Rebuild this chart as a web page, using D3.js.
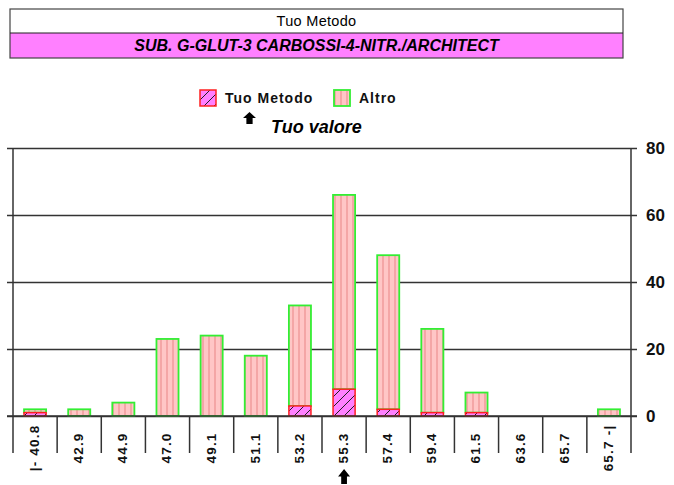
<!DOCTYPE html>
<html>
<head>
<meta charset="utf-8">
<script src="https://cdn.jsdelivr.net/npm/d3@7"></script>
<style>
  html, body { margin: 0; padding: 0; background: #fff; }
  svg { display: block; font-family: "Liberation Sans", Arial, Helvetica, sans-serif; }
</style>
</head>
<body>
<svg id="chart" width="674" height="485"></svg>
<script>
// Class limits shown under each column
const categories = ["|- 40.8", "42.9", "44.9", "47.0", "49.1", "51.1", "53.2", "55.3", "57.4", "59.4", "61.5", "63.6", "65.7", "65.7 -|"];
// Counts per class: own method (bottom) and all other methods (stacked on top)
const tuoMetodo = [1, 0, 0, 0, 0, 0, 3, 8, 2, 1, 1, 0, 0, 0];
const altro     = [1, 2, 4, 23, 24, 18, 30, 58, 46, 25, 6, 0, 0, 2];
const yTicks = [0, 20, 40, 60, 80];
const tuoValore = "55.3";
const headerTitle = "Tuo Metodo";
const headerSubtitle = "SUB. G-GLUT-3 CARBOSSI-4-NITR./ARCHITECT";
const seriesNames = ["Tuo Metodo", "Altro"];

const svg = d3.select("#chart");

// Patterns: vertical pink stripes and magenta with diagonal hatch
const defs = svg.append("defs");
const pStripe = defs.append("pattern").attr("id", "stripes")
  .attr("patternUnits", "userSpaceOnUse").attr("width", 6).attr("height", 6);
pStripe.append("rect").attr("width", 6).attr("height", 6).attr("fill", "#ffc6c6");
pStripe.append("rect").attr("x", 4).attr("width", 2).attr("height", 6).attr("fill", "#f4a6a6");

const pHatch = defs.append("pattern").attr("id", "hatch")
  .attr("patternUnits", "userSpaceOnUse").attr("width", 10).attr("height", 10);
pHatch.append("rect").attr("width", 10).attr("height", 10).attr("fill", "#ff80ff");
pHatch.append("path").attr("d", "M0,10 L10,0 M-2,2 L2,-2 M8,12 L12,8")
  .attr("stroke", "#222").attr("stroke-width", 1);

// Header box
const hx0 = 10, hx1 = 623;
svg.append("rect").attr("x", hx0).attr("y", 33).attr("width", hx1 - hx0).attr("height", 25)
  .attr("fill", "#ff80ff");
svg.append("rect").attr("x", hx0).attr("y", 9).attr("width", hx1 - hx0).attr("height", 49)
  .attr("fill", "none").attr("stroke", "#444").attr("stroke-width", 1.2);
svg.append("line").attr("x1", hx0).attr("x2", hx1).attr("y1", 33).attr("y2", 33)
  .attr("stroke", "#222").attr("stroke-width", 1.2);
svg.append("text").attr("x", (hx0 + hx1) / 2).attr("y", 26).attr("text-anchor", "middle")
  .attr("font-size", 14.5).attr("letter-spacing", 0.3).text(headerTitle);
svg.append("text").attr("x", (hx0 + hx1) / 2).attr("y", 51).attr("text-anchor", "middle")
  .attr("font-size", 16).attr("font-weight", "bold").attr("font-style", "italic")
  .text(headerSubtitle);

// Scales
const x = d3.scaleBand().domain(categories).range([13, 631]).paddingInner(0.5).paddingOuter(0.25);
const y = d3.scaleLinear().domain([0, 80]).range([416, 148]);

// Gridlines spanning the plot, with ticks on both sides
svg.append("g").attr("transform", "translate(637,0)")
  .call(d3.axisLeft(y).tickValues(yTicks).tickSize(630).tickFormat(""))
  .call(g => g.select(".domain").remove())
  .call(g => g.selectAll("line").attr("stroke", "#333").attr("stroke-width", 1.5));

// Right value axis labels
svg.append("g").attr("transform", "translate(631,0)")
  .call(d3.axisRight(y).tickValues(yTicks).tickSize(6).tickPadding(9))
  .call(g => g.select(".domain").remove())
  .call(g => g.selectAll("line").remove())
  .call(g => g.selectAll("text").attr("font-size", 17).attr("font-weight", "bold")
    .attr("fill", "#111").attr("font-family", "'Liberation Sans', Arial, sans-serif"));

// Side axis lines
[13, 631].forEach(xx => {
  svg.append("line").attr("x1", xx).attr("x2", xx).attr("y1", y(80)).attr("y2", 453)
    .attr("stroke", "#333").attr("stroke-width", 1.5);
});

// Category separators below the baseline
const step = x.step();
svg.append("g").selectAll("line").data(categories.slice(1)).join("line")
  .attr("x1", c => x(c) - (step - x.bandwidth()) / 2)
  .attr("x2", c => x(c) - (step - x.bandwidth()) / 2)
  .attr("y1", y(0)).attr("y2", 453)
  .attr("stroke", "#333").attr("stroke-width", 1.5);

// Category labels, rotated
svg.append("g").selectAll("text").data(categories).join("text")
  .attr("transform", c => `translate(${x(c) + x.bandwidth() / 2 - 1},448) rotate(-90)`)
  .attr("text-anchor", "middle").attr("dy", "0.36em")
  .attr("font-size", 13.5).attr("font-weight", "bold").attr("letter-spacing", 1.2)
  .attr("fill", "#111")
  .text(c => c);

// Bars: own method at the bottom, others stacked above
const rows = categories.map((c, i) => ({ c, t: tuoMetodo[i], a: altro[i] }));
svg.append("g").selectAll("rect").data(rows.filter(d => d.a > 0)).join("rect")
  .attr("x", d => x(d.c)).attr("width", x.bandwidth())
  .attr("y", d => y(d.t + d.a)).attr("height", d => y(d.t) - y(d.t + d.a))
  .attr("fill", "url(#stripes)").attr("stroke", "#33ee33").attr("stroke-width", 1.8);
svg.append("g").selectAll("rect").data(rows.filter(d => d.t > 0)).join("rect")
  .attr("x", d => x(d.c)).attr("width", x.bandwidth())
  .attr("y", d => y(d.t)).attr("height", d => y(0) - y(d.t))
  .attr("fill", "url(#hatch)").attr("stroke", "#ff2020").attr("stroke-width", 1.5);

// Baseline redrawn over bar bottoms
svg.append("line").attr("x1", 7).attr("x2", 637).attr("y1", y(0)).attr("y2", y(0))
  .attr("stroke", "#333").attr("stroke-width", 1.5);

// Up arrow glyph
function arrow(cx, top, w, h) {
  const hw = w / 2, sw = w * 0.24, hh = h * 0.5;
  return `M${cx},${top} L${cx + hw},${top + hh} L${cx + sw},${top + hh} L${cx + sw},${top + h} ` +
         `L${cx - sw},${top + h} L${cx - sw},${top + hh} L${cx - hw},${top + hh} Z`;
}

// Legend
const leg = svg.append("g");
leg.append("rect").attr("x", 200).attr("y", 90).attr("width", 16).attr("height", 16)
  .attr("fill", "url(#hatch)").attr("stroke", "#ff2020").attr("stroke-width", 1.5);
leg.append("text").attr("x", 225).attr("y", 103).attr("font-size", 14).attr("font-weight", "bold")
  .attr("letter-spacing", 1.0).attr("fill", "#111").text(seriesNames[0]);
leg.append("rect").attr("x", 334).attr("y", 90).attr("width", 16).attr("height", 16)
  .attr("fill", "url(#stripes)").attr("stroke", "#33ee33").attr("stroke-width", 1.8);
leg.append("text").attr("x", 359).attr("y", 103).attr("font-size", 14).attr("font-weight", "bold")
  .attr("letter-spacing", 1.0).attr("fill", "#111").text(seriesNames[1]);
leg.append("path").attr("d", arrow(249.5, 112, 13, 12)).attr("fill", "#000");
leg.append("text").attr("x", 271).attr("y", 133).attr("font-size", 18).attr("font-weight", "bold")
  .attr("font-style", "italic").attr("fill", "#000").text("Tuo valore");

// Marker under the class holding the own value
svg.append("path").attr("d", arrow(x(tuoValore) + x.bandwidth() / 2, 469, 12, 15)).attr("fill", "#000");
</script>
</body>
</html>
